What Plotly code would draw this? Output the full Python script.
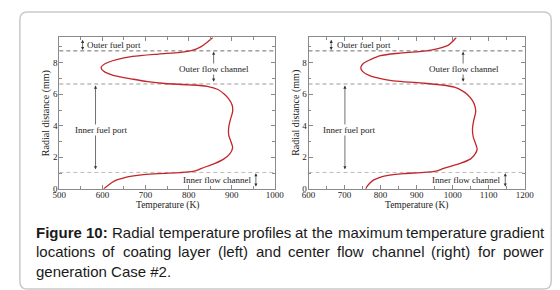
import plotly.graph_objects as go

# ---------------- data ----------------
# Left panel: coating layer location
left_y = [0.0, 0.2, 0.4, 0.55, 0.7, 0.8, 0.9, 0.97, 1.03, 1.1, 1.2, 1.3, 1.6, 1.9, 2.2, 2.6,
          3.0, 3.4, 3.9, 4.4, 4.9, 5.3, 5.7, 6.0, 6.3, 6.5, 6.6, 6.68, 6.8, 6.95, 7.2, 7.45,
          7.7, 7.95, 8.2, 8.4, 8.55, 8.65, 8.78, 9.0, 9.3, 9.6]
left_T = [603, 612, 622, 632, 650, 668, 695, 730, 780, 810, 822, 830, 860, 882, 895, 902,
          898, 893, 893, 897, 902, 901, 893, 883, 868, 843, 800, 745, 705, 672, 625, 603,
          597, 607, 633, 670, 730, 780, 808, 828, 843, 856]
# Right panel: center flow channel location
right_y = [0.0, 0.2, 0.4, 0.55, 0.7, 0.8, 0.9, 0.97, 1.03, 1.1, 1.2, 1.3, 1.6, 1.9, 2.2, 2.5,
           2.9, 3.3, 3.8, 4.3, 4.9, 5.3, 5.6, 6.0, 6.2, 6.45, 6.6, 6.7, 6.8, 6.9, 7.2, 7.45,
           7.7, 7.95, 8.2, 8.45, 8.6, 8.7, 8.8, 9.1, 9.35, 9.6]
right_T = [759, 764, 772, 780, 795, 810, 835, 865, 910, 950, 965, 975, 1019, 1050, 1062, 1068,
           1063, 1057, 1055, 1058, 1064, 1061, 1055, 1040, 1028, 1005, 965, 920, 860, 821, 768, 750,
           745, 752, 772, 800, 850, 905, 940, 987, 1000, 1010]

boundaries = [1.04, 6.65, 8.75]          # region boundaries (mm)
y_top = 9.6

left_xrange = [500, 1000]
right_xrange = [600, 1200]

region_labels = ["Outer fuel port", "Outer flow channel", "Inner fuel port", "Inner flow channel"]
left_arrow_T = [554, 858, 584, 956]
right_arrow_T = [663, 1029, 701, 1146]
label_y = [9.1, 7.62, 3.72, 0.56]
left_label_T = [561, 858, 596, 948]
right_label_T = [675, 1031, 713, 1135]

caption_lines = [
    [("Figure", True), ("10:", True), ("Radial", False), ("temperature", False), ("profiles", False),
     ("at", False), ("the", False), ("maximum", False), ("temperature", False), ("gradient", False)],
    [("locations", False), ("of", False), ("coating", False), ("layer", False), ("(left)", False),
     ("and", False), ("center", False), ("flow", False), ("channel", False), ("(right)", False),
     ("for", False), ("power", False)],
]
caption_last = "generation Case #2."

# ---------------- figure ----------------
W, H = 560, 290
RED = "#c2262c"
AX = "#8a8a8a"
SERIF = "Liberation Serif, Times New Roman, serif"
SANS = "Liberation Sans, Arial, sans-serif"

fig = go.Figure()
fig.add_trace(go.Scatter(x=left_T, y=left_y, mode="lines", line=dict(color=RED, width=1.3, shape="spline", smoothing=0.8),
                         xaxis="x", yaxis="y", showlegend=False))
fig.add_trace(go.Scatter(x=right_T, y=right_y, mode="lines", line=dict(color=RED, width=1.3, shape="spline", smoothing=0.8),
                         xaxis="x2", yaxis="y2", showlegend=False))

yd = [1 - 184 / H, 1 - 30 / H]
xd1 = [45.7 / W, 268 / W]
xd2 = [302.7 / W, 525.7 / W]

def xax(rng, dom, anchor):
    return dict(range=rng, domain=dom, anchor=anchor, dtick=100, ticks="inside", ticklen=4, tickwidth=0.8,
                tickcolor=AX, showline=True, linecolor=AX, linewidth=1, mirror="ticks", showgrid=False,
                zeroline=False, tickfont=dict(family=SERIF, size=9, color="#222"), ticklabelstandoff=-3,
                minor=dict(dtick=50, ticks="inside", ticklen=2.5, tickcolor=AX, tickwidth=0.8))

def yax(dom, anchor):
    return dict(range=[0, y_top], domain=dom, anchor=anchor, dtick=2, ticks="inside", ticklen=4, tickwidth=0.8,
                tickcolor=AX, showline=True, linecolor=AX, linewidth=1, mirror="ticks", showgrid=False,
                zeroline=False, tickfont=dict(family=SERIF, size=9, color="#222"), ticklabelstandoff=-1,
                minor=dict(dtick=1, ticks="inside", ticklen=2.5, tickcolor=AX, tickwidth=0.8))

shapes = []
dash_colors = ["#bdbdbd", "#9a9a9a", "#6e6e6e"]
for yr, xr in (("y", "x"), ("y2", "x2")):
    for b, c in zip(boundaries, dash_colors):
        shapes.append(dict(type="line", xref=xr + " domain", yref=yr, x0=0, x1=1, y0=b, y1=b,
                           line=dict(color=c, width=1, dash="4px,3px"), layer="below"))

# rounded card border
x0, x1, y0, y1, r = 5, 553, 4, 286, 8
def P(x, y):
    return f"{x / W:.5f},{1 - y / H:.5f}"
path = (f"M {P(x0 + r, y0)} L {P(x1 - r, y0)} Q {P(x1, y0)} {P(x1, y0 + r)} L {P(x1, y1 - r)} "
        f"Q {P(x1, y1)} {P(x1 - r, y1)} L {P(x0 + r, y1)} Q {P(x0, y1)} {P(x0, y1 - r)} "
        f"L {P(x0, y0 + r)} Q {P(x0, y0)} {P(x0 + r, y0)} Z")
shapes.append(dict(type="path", xref="paper", yref="paper", path=path,
                   line=dict(color="#c9c9c9", width=1.5)))

ann = []
arrow_spans = [(boundaries[2] + 0.05, y_top - 0.05), (boundaries[2] - 0.05, boundaries[1] + 0.05),
               (boundaries[1] - 0.1, boundaries[0] + 0.1), (boundaries[0] - 0.05, 0.05)]
for xr, yr, arrT, labT in (("x", "y", left_arrow_T, left_label_T), ("x2", "y2", right_arrow_T, right_label_T)):
    for i, (lab, aT, lT, ly) in enumerate(zip(region_labels, arrT, labT, label_y)):
        a, b = arrow_spans[i]
        ann.append(dict(xref=xr, yref=yr, axref=xr, ayref=yr, x=aT, y=a, ax=aT, ay=b, text="",
                        showarrow=True, arrowside="end+start", arrowhead=2, arrowsize=0.9,
                        arrowwidth=0.7, arrowcolor="#333"))
        anchor = {0: "left", 1: "center", 2: "center", 3: "right"}[i]
        ann.append(dict(xref=xr, yref=yr, x=lT, y=ly, text=lab, showarrow=False, xanchor=anchor,
                        yanchor="middle", bgcolor="white" if i in (1, 2) else "rgba(0,0,0,0)",
                        borderpad=0, font=dict(family=SERIF, size=9, color="#222")))

# axis titles
for cx in ((45.7 + 268) / 2, (302.7 + 525.7) / 2):
    ann.append(dict(xref="paper", yref="paper", x=cx / W, y=1 - 201 / H, text="Temperature (K)",
                    showarrow=False, xanchor="center", yanchor="middle", borderpad=0,
                    font=dict(family=SERIF, size=9.5, color="#222")))
for cx in (32, 289.5):
    ann.append(dict(xref="paper", yref="paper", x=cx / W, y=1 - 107 / H, text="Radial distance (mm)",
                    showarrow=False, xanchor="center", yanchor="middle", textangle=-90,
                    font=dict(family=SERIF, size=10, color="#222")))

# caption (justified lines via per-word placement, Arial/Liberation Sans metrics)
REG = {"a": 556, "b": 556, "c": 500, "d": 556, "e": 556, "f": 278, "g": 556, "h": 556, "i": 222, "j": 222,
       "k": 500, "l": 222, "m": 833, "n": 556, "o": 556, "p": 556, "q": 556, "r": 333, "s": 500, "t": 278,
       "u": 556, "v": 500, "w": 722, "x": 500, "y": 500, "z": 500, "R": 722, "C": 722, "(": 333, ")": 333,
       "#": 556, ".": 278, ":": 278, "0": 556, "1": 556, "2": 556}
BOLD = {"F": 611, "i": 278, "g": 611, "u": 611, "r": 389, "e": 556, "1": 556, "0": 556, ":": 333}
FS = 15
LX0, LX1 = 20.7, 543.3
baselines = [233.3, 253.3, 273.3]

def wwidth(w, bold):
    t = BOLD if bold else REG
    return sum(t[ch] for ch in w) * FS / 1000.0

for li, words in enumerate(caption_lines):
    widths = [wwidth(w, b) for w, b in words]
    gap = (LX1 - LX0 - sum(widths)) / (len(words) - 1)
    x = LX0
    for (w, b), wd in zip(words, widths):
        ann.append(dict(xref="paper", yref="paper", x=x / W, y=1 - (baselines[li] - 5.2) / H,
                        text=f"<b>{w}</b>" if b else w, showarrow=False, xanchor="left", yanchor="middle",
                        borderpad=0, font=dict(family=SANS, size=FS, color="#1a1a1a")))
        x += wd + gap
ann.append(dict(xref="paper", yref="paper", x=LX0 / W, y=1 - (baselines[2] - 5.2) / H, text=caption_last,
                showarrow=False, xanchor="left", yanchor="middle", borderpad=0,
                font=dict(family=SANS, size=FS, color="#1a1a1a")))

fig.update_layout(
    width=W, height=H, margin=dict(l=0, r=0, t=0, b=0),
    paper_bgcolor="white", plot_bgcolor="white",
    xaxis=xax(left_xrange, xd1, "y"), yaxis=yax(yd, "x"),
    xaxis2=xax(right_xrange, xd2, "y2"), yaxis2=yax(yd, "x2"),
    shapes=shapes, annotations=ann, showlegend=False,
)

fig.write_html("out.html")
